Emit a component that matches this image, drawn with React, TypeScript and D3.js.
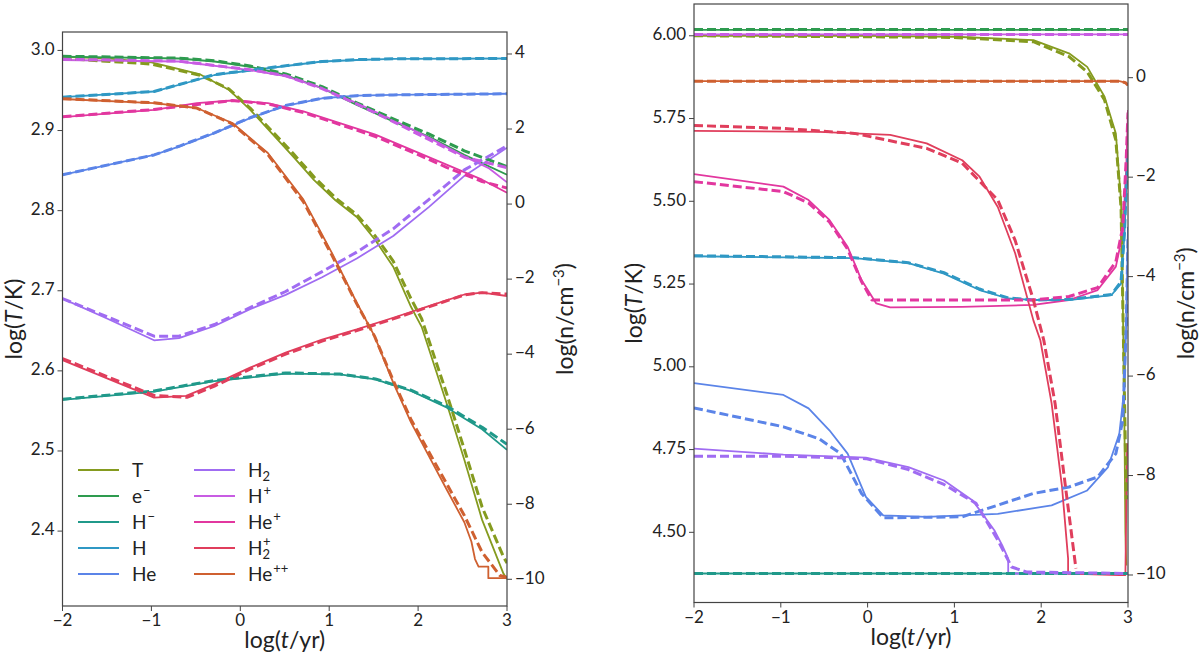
import * as d3 from "d3";

type Pt = [number, number];

// species names and colours (legend order)
const species = ["T", "e-", "H-", "H", "He", "H2", "H+", "He+", "H2+", "He++"];
const colors = ["#859b1f", "#2e9b4f", "#20998a", "#2f98c4", "#5b84e8", "#a06cf2", "#c85ce3", "#e2379f", "#e03e5c", "#cf6030"];

const xTicks = [-2, -1, 0, 1, 2, 3];
const leftTTicks = [2.4, 2.5, 2.6, 2.7, 2.8, 2.9, 3.0];
const leftNTicks = [-10, -8, -6, -4, -2, 0, 2, 4];
const rightTTicks = [4.5, 4.75, 5.0, 5.25, 5.5, 5.75, 6.0];
const rightNTicks = [-10, -8, -6, -4, -2, 0];

// ---- left panel: solid ----
const L_T: Pt[] = [[-2, 2.992], [-1.5, 2.99], [-1, 2.985], [-0.7, 2.977], [-0.45, 2.97], [-0.13, 2.951], [0.11, 2.926], [0.35, 2.897], [0.59, 2.868], [0.83, 2.838], [1.07, 2.813], [1.31, 2.792], [1.52, 2.763], [1.72, 2.73], [1.92, 2.68], [2.04, 2.655], [2.32, 2.56], [2.52, 2.489], [2.72, 2.414], [2.96, 2.347], [3.0, 2.34]];
const L_e: Pt[] = [[-2, 3.93], [-0.69, 3.88], [-0.29, 3.8], [0.11, 3.66], [0.51, 3.44], [0.92, 3.09], [1.31, 2.64], [1.72, 2.2], [2.12, 1.8], [2.52, 1.31], [3.0, 0.78]];
const L_Hm: Pt[] = [[-2, -5.22], [-0.97, -5.0], [-0.29, -4.72], [0.51, -4.52], [1.12, -4.54], [1.52, -4.67], [1.92, -4.98], [2.32, -5.42], [2.72, -6.0], [3.0, -6.55]];
const L_H: Pt[] = [[-2, 2.85], [-0.97, 3.0], [-0.5, 3.3], [-0.29, 3.44], [0.31, 3.62], [0.92, 3.8], [1.31, 3.84], [1.72, 3.87], [3.0, 3.88]];
const L_He: Pt[] = [[-2, 0.78], [-0.97, 1.31], [-0.69, 1.53], [-0.29, 1.89], [0.11, 2.29], [0.51, 2.62], [0.92, 2.82], [1.31, 2.89], [1.72, 2.91], [3.0, 2.94]];
const L_H2: Pt[] = [[-2, -2.52], [-1.5, -3.05], [-0.97, -3.63], [-0.69, -3.57], [-0.29, -3.25], [0.11, -2.8], [0.51, -2.42], [0.92, -1.95], [1.31, -1.45], [1.72, -0.85], [2.12, -0.08], [2.52, 0.75], [3.0, 1.5]];
const L_Hp: Pt[] = [[-2, 3.84], [-0.69, 3.8], [0.11, 3.57], [0.51, 3.41], [0.92, 3.09], [1.31, 2.69], [1.72, 2.24], [2.12, 1.77], [2.52, 1.27], [2.8, 0.95], [3.0, 0.58]];
const L_Hep: Pt[] = [[-2, 2.32], [-0.97, 2.51], [-0.49, 2.69], [-0.09, 2.76], [0.31, 2.69], [0.71, 2.47], [1.12, 2.16], [1.52, 1.85], [1.92, 1.45], [2.32, 1.05], [2.72, 0.65], [3.0, 0.3]];
const L_H2p: Pt[] = [[-2, -4.16], [-0.97, -5.16], [-0.61, -5.11], [-0.29, -4.8], [0.11, -4.36], [0.51, -3.96], [0.92, -3.61], [1.31, -3.34], [1.72, -3.03], [2.12, -2.72], [2.52, -2.41], [2.72, -2.36], [3.0, -2.45]];
const L_Hepp: Pt[] = [[-2, 2.8], [-0.97, 2.69], [-0.49, 2.56], [-0.09, 2.16], [0.31, 1.36], [0.71, 0.12], [1.03, -1.3], [1.31, -2.63], [1.51, -3.52], [1.72, -4.76], [1.92, -5.82], [2.12, -6.71], [2.32, -7.6], [2.52, -8.48], [2.6, -9.0], [2.64, -9.46], [2.68, -9.66], [2.79, -9.66], [2.79, -9.97], [3.0, -9.97]];

// ---- left panel: dashed ----
const L_T_d: Pt[] = [[-2, 2.99], [-1, 2.983], [-0.45, 2.969], [-0.13, 2.952], [0.11, 2.928], [0.35, 2.9], [0.59, 2.872], [0.83, 2.842], [1.07, 2.816], [1.31, 2.795], [1.52, 2.768], [1.72, 2.737], [1.92, 2.69], [2.04, 2.665], [2.32, 2.572], [2.52, 2.502], [2.72, 2.43], [2.96, 2.368], [3.0, 2.36]];
const L_e_d: Pt[] = [[-2, 3.94], [-0.69, 3.89], [-0.29, 3.82], [0.11, 3.68], [0.51, 3.47], [0.92, 3.13], [1.31, 2.7], [1.72, 2.27], [2.12, 1.87], [2.52, 1.42], [3.0, 1.0]];
const L_Hm_d: Pt[] = [[-2, -5.2], [-0.97, -4.98], [-0.29, -4.7], [0.51, -4.5], [1.12, -4.53], [1.52, -4.66], [1.92, -4.96], [2.32, -5.38], [2.72, -5.95], [3.0, -6.4]];
const L_H_d: Pt[] = [[-2, 2.85], [-0.97, 3.0], [-0.5, 3.31], [-0.29, 3.45], [0.31, 3.63], [0.92, 3.8], [1.31, 3.85], [1.72, 3.87], [3.0, 3.88]];
const L_He_d: Pt[] = [[-2, 0.78], [-0.97, 1.31], [-0.69, 1.54], [-0.29, 1.9], [0.11, 2.3], [0.51, 2.63], [0.92, 2.82], [1.31, 2.89], [1.72, 2.91], [3.0, 2.94]];
const L_H2_d: Pt[] = [[-2, -2.52], [-1.5, -3.0], [-0.97, -3.52], [-0.69, -3.52], [-0.29, -3.21], [0.11, -2.76], [0.51, -2.33], [0.92, -1.8], [1.31, -1.28], [1.72, -0.66], [2.12, 0.12], [2.52, 0.91], [3.0, 1.55]];
const L_Hp_d: Pt[] = [[-2, 3.86], [-0.69, 3.81], [0.11, 3.58], [0.51, 3.42], [0.92, 3.08], [1.31, 2.67], [1.72, 2.2], [2.12, 1.72], [2.52, 1.25], [3.0, 0.97]];
const L_Hep_d: Pt[] = [[-2, 2.33], [-0.97, 2.52], [-0.09, 2.76], [0.31, 2.67], [0.71, 2.44], [1.12, 2.12], [1.52, 1.8], [1.92, 1.4], [2.32, 0.98], [2.72, 0.6], [3.0, 0.43]];
const L_H2p_d: Pt[] = [[-2, -4.12], [-0.97, -5.1], [-0.6, -5.15], [-0.29, -4.85], [0.11, -4.4], [0.51, -4.0], [0.92, -3.65], [1.31, -3.37], [1.72, -3.06], [2.12, -2.74], [2.52, -2.42], [2.72, -2.36], [3.0, -2.4]];
const L_Hepp_d: Pt[] = [[-2, 2.81], [-0.97, 2.7], [-0.49, 2.56], [-0.09, 2.14], [0.31, 1.32], [0.71, 0.06], [1.03, -1.36], [1.31, -2.66], [1.51, -3.52], [1.72, -4.7], [1.92, -5.74], [2.12, -6.6], [2.32, -7.45], [2.52, -8.3], [2.72, -9.28], [2.92, -9.9], [3.0, -9.95]];

// ---- right panel: solid ----
const R_T: Pt[] = [[-2, 6.0], [0, 6.0], [1, 5.997], [1.91, 5.987], [2.32, 5.947], [2.53, 5.906], [2.73, 5.816], [2.86, 5.705], [2.92, 5.5], [2.94, 5.2], [2.96, 4.8], [2.97, 4.5], [2.98, 4.4]];
const R_e: Pt[] = [[-2, 0.96], [3.0, 0.96]];
const R_Hm: Pt[] = [[-2, -9.97], [3.0, -9.97]];
const R_H: Pt[] = [[-2, -3.59], [-0.15, -3.63], [0.47, -3.73], [0.88, -3.94], [1.29, -4.27], [1.62, -4.44], [1.91, -4.47], [2.32, -4.47], [2.81, -4.37], [2.92, -4.14], [2.96, -3.13], [2.98, -2.19], [3.0, -1.5]];
const R_He: Pt[] = [[-2, -6.14], [-0.97, -6.38], [-0.68, -6.65], [-0.44, -7.09], [-0.23, -7.56], [-0.02, -8.43], [0.18, -8.8], [0.68, -8.83], [1.5, -8.77], [2.12, -8.6], [2.53, -8.3], [2.77, -7.83], [2.9, -7.16], [2.96, -6.22], [2.98, -4.88], [3.0, -3.0]];
const R_H2: Pt[] = [[-2, -7.46], [-0.97, -7.58], [-0.02, -7.64], [0.47, -7.83], [0.88, -8.1], [1.21, -8.5], [1.46, -9.1], [1.55, -9.4], [1.62, -9.67], [1.62, -9.97], [3.0, -9.97]];
const R_Hp: Pt[] = [[-2, 0.87], [3.0, 0.87]];
const R_Hep: Pt[] = [[-2, -1.94], [-0.97, -2.19], [-0.68, -2.46], [-0.44, -2.86], [-0.23, -3.4], [-0.07, -4.07], [0.1, -4.54], [0.26, -4.62], [1.09, -4.61], [1.91, -4.57], [2.32, -4.47], [2.65, -4.27], [2.86, -3.8], [2.94, -3.13], [2.98, -1.79], [3.0, -0.65]];
const R_H2p: Pt[] = [[-2, -1.07], [-0.56, -1.09], [0.26, -1.15], [0.68, -1.32], [1.09, -1.66], [1.29, -1.99], [1.5, -2.6], [1.7, -3.53], [1.91, -4.88], [1.99, -5.28], [2.12, -6.55], [2.24, -8.23], [2.31, -9.67], [2.31, -9.97], [2.9, -10.0], [2.97, -10.0], [2.99, -7.35]];
const R_Hepp: Pt[] = [[-2, -0.07], [2.9, -0.07], [2.97, -0.1], [3.0, -0.15]];

// ---- right panel: dashed ----
const R_T_d: Pt[] = [[-2, 6.0], [0, 5.997], [1, 5.995], [1.91, 5.982], [2.32, 5.937], [2.53, 5.891], [2.73, 5.806], [2.86, 5.685], [2.92, 5.48], [2.94, 5.19], [2.96, 4.9], [2.98, 4.6]];
const R_e_d: Pt[] = [[-2, 0.97], [3.0, 0.97]];
const R_Hm_d: Pt[] = [[-2, -9.97], [3.0, -9.97]];
const R_H_d: Pt[] = [[-2, -3.58], [-0.15, -3.62], [0.47, -3.72], [0.88, -3.92], [1.29, -4.25], [1.62, -4.43], [1.91, -4.47], [2.32, -4.46], [2.81, -4.36], [2.92, -4.1], [2.96, -3.1], [2.98, -2.2], [3.0, -1.6]];
const R_He_d: Pt[] = [[-2, -6.64], [-0.97, -7.02], [-0.56, -7.26], [-0.31, -7.56], [-0.07, -8.36], [0.18, -8.85], [1.09, -8.83], [1.91, -8.36], [2.32, -8.23], [2.65, -8.03], [2.86, -7.56], [2.94, -6.89], [2.98, -5.0], [3.0, -3.2]];
const R_H2_d: Pt[] = [[-2, -7.61], [-0.97, -7.61], [-0.02, -7.66], [0.47, -7.88], [0.88, -8.18], [1.25, -8.56], [1.5, -9.3], [1.66, -9.84], [1.83, -9.94], [3.0, -9.97]];
const R_Hp_d: Pt[] = [[-2, 0.87], [3.0, 0.87]];
const R_Hep_d: Pt[] = [[-2, -2.09], [-0.97, -2.29], [-0.68, -2.52], [-0.44, -2.9], [-0.23, -3.45], [-0.07, -4.1], [0.05, -4.47], [1.09, -4.47], [1.91, -4.47], [2.32, -4.4], [2.65, -4.22], [2.86, -3.7], [2.94, -3.0], [2.98, -1.6], [3.0, -0.7]];
const R_H2p_d: Pt[] = [[-2, -0.96], [-0.97, -1.02], [-0.15, -1.12], [0.68, -1.42], [1.09, -1.72], [1.5, -2.46], [1.7, -3.27], [1.91, -4.47], [2.03, -5.28], [2.16, -6.55], [2.28, -8.23], [2.4, -9.87]];
const R_Hepp_d: Pt[] = [[-2, -0.07], [2.9, -0.07], [2.97, -0.1], [3.0, -0.15]];

const leftSolid = [L_T, L_e, L_Hm, L_H, L_He, L_H2, L_Hp, L_Hep, L_H2p, L_Hepp];
const leftDashed = [L_T_d, L_e_d, L_Hm_d, L_H_d, L_He_d, L_H2_d, L_Hp_d, L_Hep_d, L_H2p_d, L_Hepp_d];
const rightSolid = [R_T, R_e, R_Hm, R_H, R_He, R_H2, R_Hp, R_Hep, R_H2p, R_Hepp];
const rightDashed = [R_T_d, R_e_d, R_Hm_d, R_H_d, R_He_d, R_H2_d, R_Hp_d, R_Hep_d, R_H2p_d, R_Hepp_d];

const FONT = "Lato, 'DejaVu Sans', sans-serif";
const AX = "#444";
const TXT = "#222";

const fmt = (v: number, d: number) => v.toFixed(d).replace("-", "\u2212");

function Label({ name, x, y }: { name: string; x: number; y: number }) {
  const base = name.replace(/[0-9+-]+$/, "");
  const rest = name.slice(base.length);
  const sub = rest.replace(/[+-]/g, "");
  const sup = rest.replace(/[0-9]/g, "").replace(/-/g, "\u2212");
  return (
    <text x={x} y={y} fontSize={19} fill={TXT} fontFamily={FONT}>
      <tspan>{base}</tspan>
      {sub && <tspan fontSize={13} dy={4}>{sub}</tspan>}
      {sup && <tspan fontSize={13} dx={sub ? -7 : 1} dy={sub ? -13 : -8}>{sup}</tspan>}
    </text>
  );
}

type PanelProps = {
  id: string;
  box: { l: number; r: number; t: number; b: number };
  tDomain: [number, number];
  nDomain: [number, number];
  tTicks: number[];
  nTicks: number[];
  tDigits: number;
  tLabelDx: number;
  solid: Pt[][];
  dashed: Pt[][];
  legend?: boolean;
};

function Panel({ id, box, tDomain, nDomain, tTicks, nTicks, tDigits, tLabelDx, solid, dashed, legend }: PanelProps) {
  const x = d3.scaleLinear().domain([-2, 3]).range([box.l, box.r]);
  const yT = d3.scaleLinear().domain(tDomain).range([box.b, box.t]);
  const yN = d3.scaleLinear().domain(nDomain).range([box.b, box.t]);
  const mk = (i: number) => {
    const y = i === 0 ? yT : yN;
    return d3.line<Pt>().x((d) => x(d[0])).y((d) => y(d[1]));
  };
  const cx = (box.l + box.r) / 2;
  const cy = (box.t + box.b) / 2;
  return (
    <g>
      <defs>
        <clipPath id={id}>
          <rect x={box.l} y={box.t} width={box.r - box.l} height={box.b - box.t} />
        </clipPath>
      </defs>
      <g clipPath={`url(#${id})`}>
        {solid.map((s, i) => (
          <path key={"s" + i} d={mk(i)(s) || ""} fill="none" stroke={colors[i]} strokeWidth={1.8} strokeLinejoin="round" />
        ))}
        {dashed.map((s, i) => (
          <path key={"d" + i} d={mk(i)(s) || ""} fill="none" stroke={colors[i]} strokeWidth={3} strokeDasharray="9,4" strokeLinejoin="round" />
        ))}
      </g>
      <rect x={box.l} y={box.t} width={box.r - box.l} height={box.b - box.t} fill="none" stroke={AX} strokeWidth={1.2} />
      {xTicks.map((v) => (
        <g key={"x" + v}>
          <line x1={x(v)} x2={x(v)} y1={box.b} y2={box.b + 5} stroke={AX} />
          <text x={x(v)} y={box.b + 20} textAnchor="middle" fontSize={17} fill={TXT} fontFamily={FONT}>{fmt(v, 0)}</text>
        </g>
      ))}
      {tTicks.map((v) => (
        <g key={"t" + v}>
          <line x1={box.l - 5} x2={box.l} y1={yT(v)} y2={yT(v)} stroke={AX} />
          <text x={box.l - 8} y={yT(v)} textAnchor="end" dominantBaseline="middle" fontSize={17} fill={TXT} fontFamily={FONT}>{fmt(v, tDigits)}</text>
        </g>
      ))}
      {nTicks.map((v) => (
        <g key={"n" + v}>
          <line x1={box.r} x2={box.r + 5} y1={yN(v)} y2={yN(v)} stroke={AX} />
          <text x={box.r + 8} y={yN(v)} dominantBaseline="middle" fontSize={17} fill={TXT} fontFamily={FONT}>{fmt(v, 0)}</text>
        </g>
      ))}
      <text x={cx} y={box.b + 42} textAnchor="middle" fontSize={23} fill={TXT} fontFamily={FONT}>
        log(<tspan fontStyle="italic">t</tspan>/yr)
      </text>
      <text transform={`translate(${box.l - tLabelDx},${cy}) rotate(-90)`} textAnchor="middle" fontSize={23} fill={TXT} fontFamily={FONT}>
        log(<tspan fontStyle="italic">T</tspan>/K)
      </text>
      <text transform={`translate(${box.r + 66},${cy}) rotate(-90)`} textAnchor="middle" fontSize={23} fill={TXT} fontFamily={FONT}>
        log(n/cm<tspan fontSize={15} dy={-9}>{"\u22123"}</tspan><tspan dy={9}>)</tspan>
      </text>
      {legend &&
        species.map((s, i) => {
          const col = Math.floor(i / 5);
          const row = i % 5;
          const lx = 78 + col * 116;
          const ly = 470 + row * 26;
          return (
            <g key={"lg" + s}>
              <line x1={lx} x2={lx + 41} y1={ly} y2={ly} stroke={colors[i]} strokeWidth={2} />
              <Label name={s} x={lx + 54} y={ly + 7} />
            </g>
          );
        })}
    </g>
  );
}

export default function App() {
  return (
    <svg width={1200} height={659} style={{ position: "absolute", left: 0, top: 0, background: "#fff" }}>
      <Panel
        id="clipL"
        box={{ l: 62.5, r: 507, t: 32, b: 606 }}
        tDomain={[2.3065, 3.023]}
        nDomain={[-10.712, 4.586]}
        tTicks={leftTTicks}
        nTicks={leftNTicks}
        tDigits={1}
        tLabelDx={41}
        solid={leftSolid}
        dashed={leftDashed}
        legend
      />
      <Panel
        id="clipR"
        box={{ l: 694, r: 1128, t: 4, b: 602.5 }}
        tDomain={[4.288, 6.096]}
        nDomain={[-10.553, 1.482]}
        tTicks={rightTTicks}
        nTicks={rightNTicks}
        tDigits={2}
        tLabelDx={52}
        solid={rightSolid}
        dashed={rightDashed}
      />
    </svg>
  );
}
